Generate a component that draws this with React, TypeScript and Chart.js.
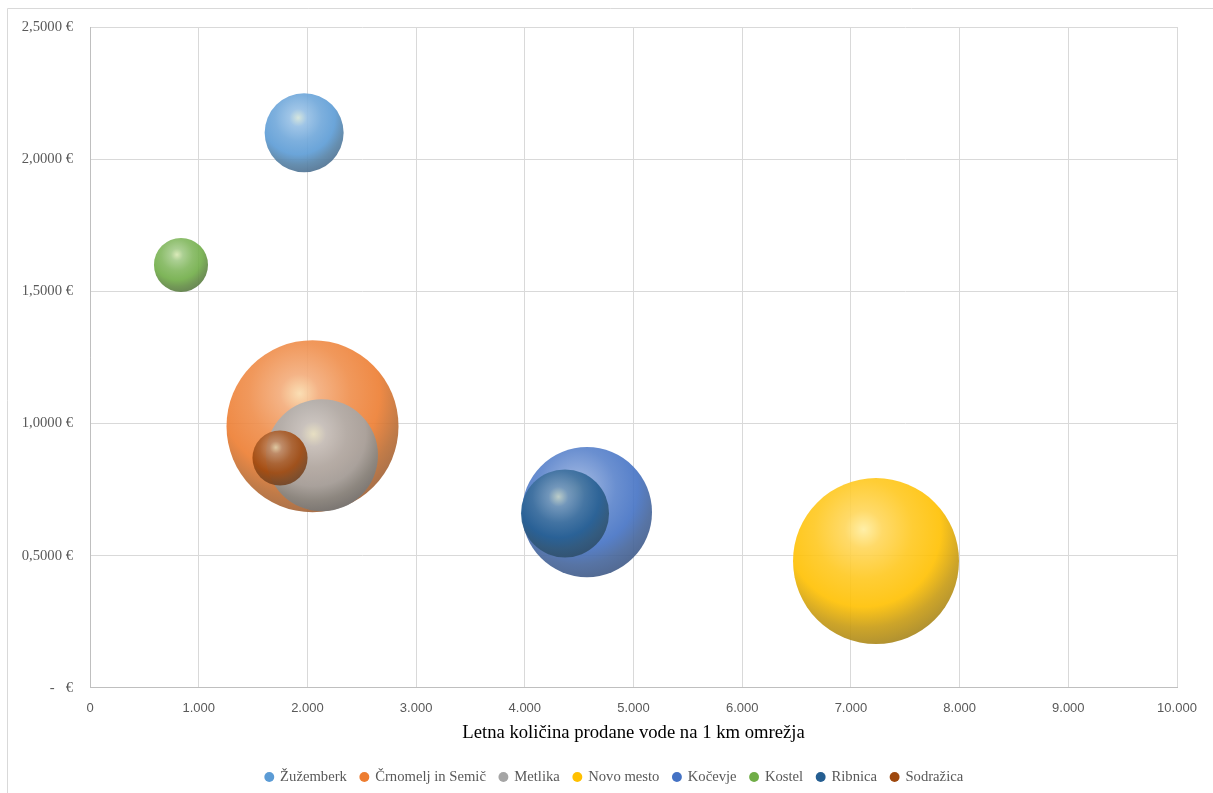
import React, { useEffect, useRef } from "react";
import { Chart, registerables } from "chart.js";

Chart.register(...registerables);

// ---- data ----
const municipalities = [
  "Žužemberk",
  "Črnomelj in Semič",
  "Metlika",
  "Novo mesto",
  "Kočevje",
  "Kostel",
  "Ribnica",
  "Sodražica",
];
// annual quantity of water sold per 1 km of network (x)
const waterPerKm = [1970, 2047, 2134, 7231, 4572, 837, 4370, 1748];
// price (y, €)
const priceEur = [2.1, 0.99, 0.88, 0.48, 0.665, 1.6, 0.66, 0.87];
// bubble size (third dimension)
const bubbleSizes = [156, 740, 314, 689, 423, 73, 194, 76];

const xTickValues = [0, 1000, 2000, 3000, 4000, 5000, 6000, 7000, 8000, 9000, 10000];
const yTickValues = [0, 0.5, 1, 1.5, 2, 2.5];

const xTitle = "Letna količina prodane vode na 1 km omrežja";

// ---- styles ----
const seriesColors = ["#5B9BD5", "#ED7D31", "#A5A5A5", "#FFC000", "#4472C4", "#70AD47", "#255E91", "#9E480E"];
const MAX_RADIUS = 86;
const BUBBLE_ALPHA = 0.9;

function hexToRgb(hex: string): [number, number, number] {
  const h = hex.replace("#", "");
  return [parseInt(h.slice(0, 2), 16), parseInt(h.slice(2, 4), 16), parseInt(h.slice(4, 6), 16)];
}
function mix(c: [number, number, number], t: [number, number, number], f: number): [number, number, number] {
  return [c[0] + (t[0] - c[0]) * f, c[1] + (t[1] - c[1]) * f, c[2] + (t[2] - c[2]) * f];
}
function rgba(c: [number, number, number], a: number) {
  return `rgba(${Math.round(c[0])},${Math.round(c[1])},${Math.round(c[2])},${a})`;
}

const maxSize = Math.max(...bubbleSizes);

function fmtThousands(v: number) {
  if (v === 0) return "0";
  const s = Math.round(v).toString();
  return s.replace(/\B(?=(\d{3})+(?!\d))/g, ".");
}

const borderPlugin = {
  id: "outerBorder",
  afterLayout(chart: any) {
    const lg = chart.legend;
    if (lg) {
      lg.left += 26;
      lg.right += 26;
    }
  },
  beforeDraw(chart: any) {
    const c = chart.ctx;
    c.save();
    c.strokeStyle = "#d9d9d9";
    c.lineWidth = 1;
    c.beginPath();
    c.moveTo(7.5, 793);
    c.lineTo(7.5, 8.5);
    c.lineTo(1213, 8.5);
    c.stroke();
    c.restore();
  },
};

export default function App() {
  const ref = useRef<HTMLCanvasElement | null>(null);

  useEffect(() => {
    if (!ref.current) return;

    const datasets = municipalities.map((name, i) => {
      const base = hexToRgb(seriesColors[i]);
      const r = Math.sqrt(bubbleSizes[i] / maxSize) * MAX_RADIUS;
      return {
        label: name,
        data: [{ x: waterPerKm[i], y: priceEur[i], r }],
        order: bubbleSizes[i],
        borderWidth: 0,
        borderColor: rgba(base, 0),
        hoverBorderWidth: 0,
        backgroundColor: (ctx: any) => {
          const chart = ctx.chart;
          const xs = chart.scales?.x;
          const ys = chart.scales?.y;
          if (ctx.type !== "data" || !xs || !ys || !chart.chartArea) return rgba(base, BUBBLE_ALPHA);
          const raw = ctx.raw;
          const cx = xs.getPixelForValue(raw.x);
          const cy = ys.getPixelForValue(raw.y);
          const rr = raw.r;
          const fx = cx - 0.15 * rr;
          const fy = cy - 0.38 * rr;
          const g = chart.ctx.createRadialGradient(fx, fy, 0, fx, fy, 1.41 * rr);
          g.addColorStop(0, rgba(mix(base, [255, 255, 220], 0.72), BUBBLE_ALPHA));
          g.addColorStop(0.16, rgba(mix(base, [255, 255, 255], 0.35), BUBBLE_ALPHA));
          g.addColorStop(0.42, rgba(mix(base, [255, 255, 255], 0.12), BUBBLE_ALPHA));
          g.addColorStop(0.66, rgba(base, BUBBLE_ALPHA));
          g.addColorStop(0.84, rgba(mix(base, [70, 70, 60], 0.3), BUBBLE_ALPHA));
          g.addColorStop(1, rgba(mix(base, [60, 60, 60], 0.45), BUBBLE_ALPHA));
          return g;
        },
      };
    });

    const chart = new Chart(ref.current, {
      type: "bubble",
      data: { datasets },
      plugins: [borderPlugin],
      options: {
        animation: false,
        responsive: false,
        events: [],
        layout: { autoPadding: false, padding: { top: 27, right: 36, left: 0, bottom: -1.3 } },
        scales: {
          x: {
            type: "linear",
            min: 0,
            max: 10000,
            afterBuildTicks: (scale: any) => {
              scale.ticks = xTickValues.map((v) => ({ value: v }));
            },
            afterFit: (scale: any) => {
              scale.height = 67.67;
            },
            grid: { color: "#d9d9d9", lineWidth: 1, drawTicks: false },
            border: { color: "#bfbfbf", width: 1 },
            ticks: {
              padding: 13,
              color: "#595959",
              font: { family: "'Liberation Sans', Arial, sans-serif", size: 13 },
              callback: (v: any) => fmtThousands(Number(v)),
              maxRotation: 0,
              autoSkip: false,
            },
            title: {
              display: true,
              text: xTitle,
              color: "#000000",
              font: { family: "'Liberation Serif', 'Times New Roman', serif", size: 18.67 },
              padding: { top: 0, bottom: 11.5 },
            },
          },
          y: {
            type: "linear",
            min: 0,
            max: 2.5,
            afterBuildTicks: (scale: any) => {
              scale.ticks = yTickValues.map((v) => ({ value: v }));
            },
            afterFit: (scale: any) => {
              scale.width = 90;
            },
            grid: { color: "#d9d9d9", lineWidth: 1, drawTicks: false },
            border: { color: "#bfbfbf", width: 1 },
            ticks: {
              padding: 17,
              color: "#595959",
              font: { family: "'Liberation Serif', 'Times New Roman', serif", size: 14.67 },
              callback: (v: any) => {
                const n = Number(v);
                if (n === 0) return "-   €";
                return n.toFixed(4).replace(".", ",") + " €";
              },
            },
          },
        },
        plugins: {
          tooltip: { enabled: false },
          legend: {
            display: true,
            position: "bottom",
            labels: {
              usePointStyle: true,
              pointStyle: "circle",
              boxWidth: 7,
              boxHeight: 7,
              padding: 14,
              color: "#595959",
              font: { family: "'Liberation Serif', 'Times New Roman', serif", size: 14.67 },
              generateLabels: (ch: any) =>
                ch.data.datasets.map((ds: any, i: number) => ({
                  text: ds.label,
                  fillStyle: seriesColors[i],
                  strokeStyle: seriesColors[i],
                  lineWidth: 0,
                  pointStyle: "circle",
                  hidden: false,
                  datasetIndex: i,
                  fontColor: "#595959",
                })),
            },
          },
        },
      } as any,
    });

    return () => chart.destroy();
  }, []);

  return (
    <div style={{ position: "absolute", left: 0, top: 0, width: 1213, height: 793, background: "#fff" }}>
      <canvas ref={ref} width={1213} height={793} style={{ width: 1213, height: 793, display: "block" }} />
    </div>
  );
}
